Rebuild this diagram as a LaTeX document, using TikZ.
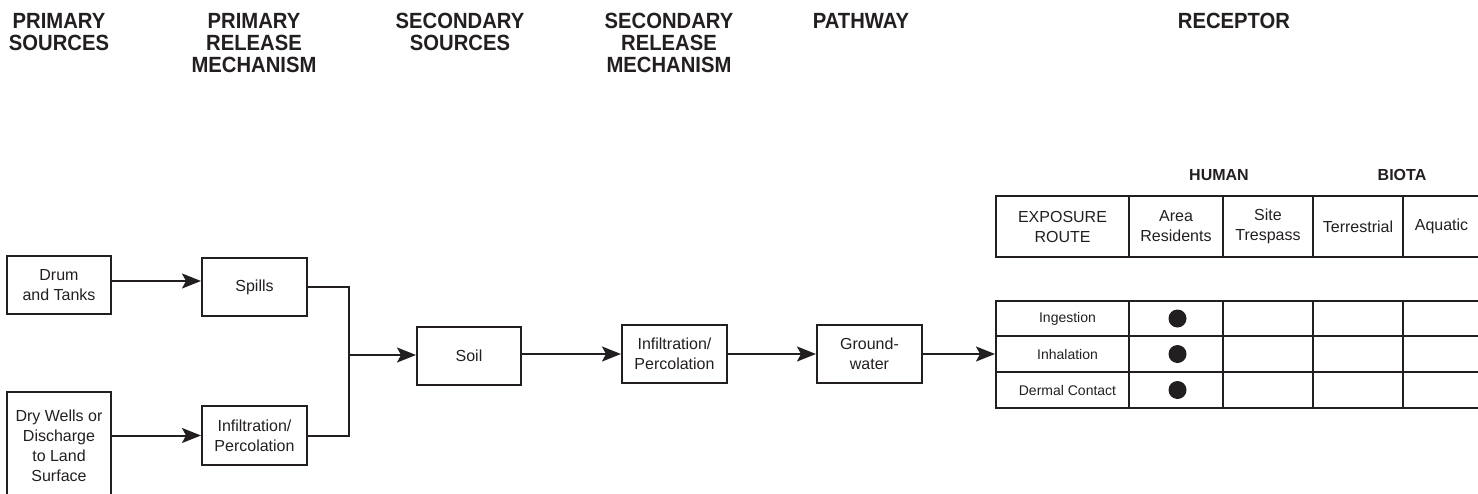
\documentclass[tikz,border=0pt]{standalone}
\usepackage{fontspec}
\setmainfont{Liberation Sans}
\newfontfamily\hdrfont[FakeStretch=0.92]{Liberation Sans}
\usetikzlibrary{arrows.meta}
\definecolor{ink}{RGB}{35,31,32}
\begin{document}
\begin{tikzpicture}[x=1pt,y=-1pt, color=ink,
  hdr/.style={font=\hdrfont\bfseries\fontsize{22}{22}\selectfont, align=center, inner sep=0pt, anchor=north},
  box/.style={draw, line width=2pt, inner sep=0pt, align=center, font=\fontsize{16}{20}\selectfont},
  arr/.style={line width=2pt, -{Stealth[length=19pt,width=15pt,inset=4pt]}},
  ln/.style={line width=2pt},
  cell/.style={draw, line width=2pt, inner sep=0pt, align=center, font=\fontsize{16}{20}\selectfont},
  rcell/.style={cell, font=\fontsize{14}{17}\selectfont},
  sub/.style={font=\bfseries\fontsize{16}{19}\selectfont, inner sep=0pt, anchor=base},
  dot/.style={circle, fill=ink, minimum size=18pt, inner sep=0pt}
]
\clip (0,0) rectangle (1478,493);
% column headers
\node[hdr] (h1) at (59,13) {PRIMARY\\SOURCES};
\node[hdr] (h2) at (254,13) {PRIMARY\\RELEASE\\MECHANISM};
\node[hdr] (h3) at (460,13) {SECONDARY\\SOURCES};
\node[hdr] (h4) at (669,13) {SECONDARY\\RELEASE\\MECHANISM};
\node[hdr] (h5) at (861,13) {PATHWAY};
\node[hdr] (h6) at (1234,13) {RECEPTOR};
% flow boxes
\node[box, minimum width=104pt, minimum height=58pt] (drum) at (59,285) {Drum\\and Tanks};
\node[box, minimum width=104pt, minimum height=107pt] (dry) at (59,445.5) {Dry Wells or\\Discharge\\to Land\\Surface};
\node[box, minimum width=105pt, minimum height=58pt] (spills) at (254.5,287) {Spills};
\node[box, minimum width=105pt, minimum height=59pt] (inf1) at (254.5,435.5) {Infiltration/\\Percolation};
\node[box, minimum width=104pt, minimum height=58pt] (soil) at (469,356) {Soil};
\node[box, minimum width=105pt, minimum height=58pt] (inf2) at (674.5,354) {Infiltration/\\Percolation};
\node[box, minimum width=105pt, minimum height=58pt] (gw) at (869.5,354) {Ground-\\water};
\coordinate (merge) at (349,355);
% connectors
\draw[arr] ([yshift=4pt]drum.east) -- ([yshift=4pt]drum.east -| spills.west);
\draw[arr] (dry.east |- inf1.west) -- (inf1.west);
\draw[ln] (spills.east) -| (merge) |- (inf1.east);
\draw[arr] (merge) -- (merge -| soil.west);
\draw[arr] (soil.east |- inf2.west) -- (inf2.west);
\draw[arr] (inf2.east) -- (gw.west);
% receptor table headings
\node[sub] (human) at (1219,180) {HUMAN};
\node[sub] (biota) at (1402,180) {BIOTA};
% header row
\node[cell, minimum width=133pt, minimum height=61pt] (c1) at (1062.5,226.5) {EXPOSURE\\ROUTE};
\node[cell, minimum width=94pt, minimum height=61pt] (c2) at (1176,226.5) {Area\\Residents};
\node[cell, minimum width=90pt, minimum height=61pt] (c3) at (1268,226.5) {Site\\Trespass};
\node[cell, minimum width=90pt, minimum height=61pt] (c4) at (1358,226.5) {Terrestrial};
\node[cell, minimum width=77pt, minimum height=61pt] (c5) at (1441.5,226.5) {Aquatic};
% exposure rows
\foreach \n/\y/\h/\t in {ing/318.5/35/Ingestion, inh/354/36/Inhalation, der/390/36/Dermal Contact}{
  \node[rcell, minimum width=133pt, minimum height=\h pt] (\n1) at (1062.5,\y) {\hspace*{10pt}\t};
  \node[cell, minimum width=94pt, minimum height=\h pt] (\n2) at (1176,\y) {};
  \node[cell, minimum width=90pt, minimum height=\h pt] (\n3) at (1268,\y) {};
  \node[cell, minimum width=90pt, minimum height=\h pt] (\n4) at (1358,\y) {};
  \node[cell, minimum width=77pt, minimum height=\h pt] (\n5) at (1441.5,\y) {};
  \node[dot] (\n dot) at ([xshift=1.5pt]\n2.center) {};
}
\draw[arr] (gw.east) -- (inh1.west);
\end{tikzpicture}
\end{document}
